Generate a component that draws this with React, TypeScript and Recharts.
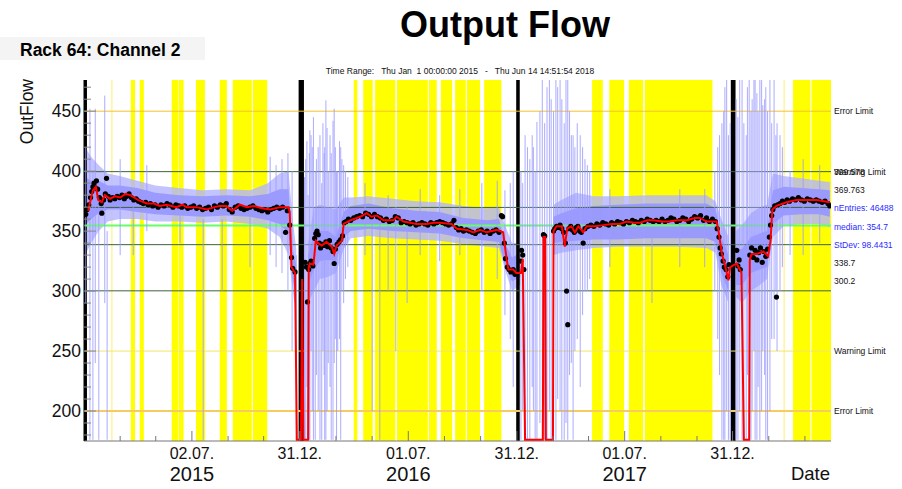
import React from 'react';
import {
  ComposedChart,
  XAxis,
  YAxis,
  Area,
  Line,
  Scatter,
  ErrorBar,
  ReferenceArea,
  ReferenceLine,
} from 'recharts';

const FONT = '"Liberation Sans", Arial, Helvetica, sans-serif';

// x values are days since 01.01.2015
const majorDays = [182, 364, 547, 730, 912, 1094];
const majorLabels = ['02.07.', '31.12.', '01.07.', '31.12.', '01.07.', '31.12.'];
const yearLabels = ['2015', '', '2016', '', '2017', ''];
const minorDays = [61, 121, 243, 303, 425, 486, 608, 669, 791, 851, 973, 1034, 1155, 1216];
const yTicks = [180, 190, 200, 210, 220, 230, 240, 250, 260, 270, 280, 290, 300, 310, 320, 330, 340, 350, 360, 370, 380, 390, 400, 410, 420, 430, 440, 450, 460, 470];

const yellowBands: [number, number][] = [
  [79, 86], [94, 101], [148, 159], [160, 168], [189, 204], [229, 241], [251, 283], [285, 309],
  [455, 461], [471, 487], [491, 525], [528, 580], [582, 595], [602, 621], [626, 644], [646, 668], [675, 704],
  [857, 875], [886, 911], [919, 943], [946, 1060],
  [1196, 1225], [1227, 1260],
];
const paleLines = [47, 1181];
const blackBars: [number, number][] = [[0, 5], [362, 371], [729, 735], [1091, 1099]];

// [value, colour, width, label]
const limitLines: [number, string, number, string][] = [
  [450, '#f2c12e', 1, 'Error Limit'],
  [250, '#f3e46a', 1, 'Warning Limit'],
  [200, '#f6cc62', 2, 'Error Limit'],
];
const statLines = [399.578, 369.763, 338.7, 300.2];
const medianValue = 354.7;
const statTexts: [string, string][] = [
  ['399.578', '#111'],
  ['369.763', '#111'],
  ['nEntries: 46488', '#2a2aff'],
  ['median: 354.7', '#2a2aff'],
  ['StDev: 98.4431', '#2a2aff'],
  ['338.7', '#111'],
  ['300.2', '#111'],
];

// [day, outerLow, outerHigh, innerLow, innerHigh]; null = no envelope
const bandRows: [number, number | null, number | null, number | null, number | null][] = [
  [2, 330, 420, 355, 395], [12, 340, 412, 360, 392], [25, 350, 405, 365, 392], [40, 358, 398, 368, 388],
  [60, 360, 396, 368, 388], [90, 360, 392, 366, 386], [120, 358, 388, 364, 382], [160, 358, 386, 363, 380],
  [200, 357, 384, 362, 379], [240, 358, 385, 363, 380], [280, 356, 384, 362, 379], [310, 352, 390, 359, 381],
  [330, 345, 398, 356, 385], [345, 330, 400, 348, 385], [352, 300, 360, 310, 335], [358, 280, 335, 295, 322],
  [362, null, null, null, null],
  [378, 290, 340, 305, 330], [388, 300, 370, 318, 348], [398, 310, 372, 325, 350], [412, 312, 370, 326, 350],
  [425, 315, 368, 325, 345], [438, 335, 378, 345, 366], [450, 344, 378, 350, 371], [480, 346, 379, 352, 373],
  [520, 344, 377, 350, 369], [560, 343, 375, 349, 367], [600, 342, 374, 348, 366], [640, 339, 371, 344, 361],
  [680, 337, 369, 342, 359], [700, 336, 370, 341, 360], [710, 318, 355, 322, 340], [722, 300, 340, 308, 328],
  [736, 305, 340, 312, 332],
  [744, null, null, null, null],
  [792, 330, 372, 340, 362], [805, 332, 376, 341, 365], [830, 334, 382, 342, 369], [860, 336, 379, 343, 371],
  [900, 337, 379, 343, 372], [950, 337, 380, 344, 373], [1000, 337, 380, 344, 373], [1050, 336, 380, 344, 373],
  [1065, 332, 375, 341, 369], [1075, 305, 360, 315, 345], [1087, 290, 345, 300, 330],
  [1092, null, null, null, null],
  [1100, 295, 350, 305, 335], [1110, 290, 355, 305, 335], [1125, 300, 365, 315, 345], [1140, 305, 370, 318, 348],
  [1152, 310, 372, 320, 350], [1162, 345, 398, 356, 384], [1180, 354, 396, 363, 387], [1210, 356, 394, 364, 386],
  [1240, 356, 392, 364, 385], [1258, 353, 391, 362, 384],
];

// [day, low, high] single raw readings
const spikes: [number, number, number][] = [
  [3, 290, 420], [10, 176, 452], [15, 176, 400], [19, 240, 452], [25, 176, 390], [35, 290, 463], [39, 176, 350],
  [61, 330, 410], [83, 330, 370], [106, 350, 405], [162, 340, 380], [201, 176, 360], [233, 300, 360], [280, 320, 372],
  [314, 330, 412], [324, 320, 405], [334, 315, 410], [344, 300, 415], [351, 250, 400], [358, 176, 330],
  [372, 176, 395], [374, 176, 410], [376, 220, 425], [378, 176, 380], [380, 176, 415], [381, 176, 434], [383, 250, 430],
  [385, 200, 420], [387, 176, 445], [390, 176, 400], [392, 230, 410], [395, 200, 420], [398, 176, 430], [401, 176, 390],
  [403, 250, 440], [405, 230, 415], [406, 176, 420], [408, 176, 459], [410, 200, 436], [412, 240, 400], [415, 220, 430],
  [417, 176, 415], [420, 176, 442], [422, 240, 452], [424, 260, 420], [426, 176, 400], [428, 250, 400], [431, 260, 425],
  [433, 176, 420], [435, 300, 410], [438, 290, 405], [441, 310, 400], [445, 320, 395],
  [474, 330, 390], [486, 200, 360], [499, 176, 365], [513, 300, 380], [526, 250, 370], [545, 290, 370], [567, 330, 385],
  [600, 325, 380], [634, 330, 385], [671, 300, 390], [697, 310, 392], [710, 280, 384], [719, 260, 390], [724, 220, 400],
  [737, 176, 400], [740, 200, 390], [744, 176, 430], [748, 176, 420], [752, 176, 410], [756, 220, 430], [758, 200, 420],
  [761, 176, 400], [764, 176, 441], [769, 190, 450], [773, 176, 476], [777, 176, 440], [781, 176, 470], [785, 200, 476],
  [788, 176, 460], [792, 176, 450], [796, 176, 476], [799, 210, 470], [803, 200, 476], [806, 176, 460], [810, 176, 440],
  [813, 190, 476], [816, 176, 476], [819, 230, 450], [822, 240, 430], [825, 176, 430], [828, 250, 420], [832, 260, 440],
  [837, 220, 430], [841, 280, 420], [845, 300, 410], [849, 300, 405], [853, 310, 400],
  [887, 320, 385], [958, 290, 350], [1005, 320, 385], [1047, 320, 385], [1064, 300, 400], [1069, 260, 420],
  [1072, 230, 430], [1076, 176, 440], [1079, 176, 450], [1081, 176, 470], [1084, 200, 476], [1087, 176, 430],
  [1090, 176, 440], [1100, 176, 460], [1103, 176, 445], [1106, 200, 476], [1110, 176, 476], [1113, 176, 440],
  [1117, 176, 430], [1119, 230, 470], [1122, 176, 476], [1125, 176, 450], [1127, 200, 460], [1130, 250, 476],
  [1132, 176, 476], [1135, 176, 465], [1137, 220, 450], [1140, 176, 476], [1143, 200, 476], [1145, 250, 455],
  [1148, 230, 460], [1150, 176, 470], [1153, 176, 450], [1157, 200, 476], [1160, 260, 440], [1164, 260, 476],
  [1167, 300, 430], [1169, 250, 440], [1174, 300, 430], [1178, 320, 420], [1191, 330, 400], [1213, 330, 410],
  [1241, 340, 405],
];

// [day, value] daily averages
const dots: [number, number][] = [
  [3, 364], [5, 368], [8, 372], [11, 378], [13, 383], [15, 387], [17, 390], [19, 386], [21, 392], [23, 385], [26, 378],
  [29, 373], [30, 365], [33, 376], [36, 381], [38, 394], [41, 379], [44, 376], [48, 378], [52, 377], [56, 379], [60, 378],
  [64, 380], [68, 377], [72, 379], [76, 381], [80, 378], [84, 376], [88, 377], [92, 375], [96, 374], [100, 373], [104, 374],
  [108, 372], [112, 373], [116, 371], [120, 372], [125, 370], [130, 372], [135, 371], [140, 373], [145, 372], [150, 370],
  [155, 372], [160, 371], [165, 370], [170, 371], [175, 369], [180, 370], [185, 371], [190, 369], [195, 370], [200, 368],
  [205, 369], [210, 370], [215, 368], [220, 371], [225, 370], [230, 372], [235, 371], [240, 373], [245, 368], [250, 366],
  [255, 370], [260, 371], [265, 369], [270, 368], [275, 369], [280, 370], [285, 371], [290, 369], [295, 368], [300, 367],
  [305, 368], [310, 366], [315, 368], [320, 369], [325, 370], [330, 369], [335, 370], [340, 349], [343, 367], [347, 355],
  [350, 328], [352, 319], [356, 316], [373, 324], [375, 320], [377, 291], [379, 318], [381, 323], [383, 325], [386, 321],
  [389, 344], [391, 348], [393, 350], [395, 347], [397, 340], [399, 336], [402, 339], [405, 338], [408, 341], [411, 337],
  [414, 342], [417, 336], [420, 333], [422, 323], [424, 335], [427, 339], [430, 341], [433, 343], [436, 346], [439, 357],
  [442, 358], [446, 360], [450, 359], [455, 361], [460, 362], [465, 363], [470, 362], [475, 365], [480, 364], [485, 362],
  [490, 364], [495, 362], [500, 361], [505, 359], [510, 360], [515, 358], [520, 359], [525, 362], [530, 361], [535, 357],
  [540, 358], [545, 357], [550, 356], [555, 357], [560, 355], [565, 356], [570, 357], [575, 356], [580, 355], [585, 357],
  [590, 356], [595, 357], [600, 358], [605, 357], [610, 356], [615, 355], [620, 356], [624, 359], [628, 353], [632, 351],
  [636, 352], [640, 350], [645, 351], [650, 350], [655, 349], [660, 348], [665, 350], [670, 351], [675, 349], [680, 350],
  [685, 348], [690, 350], [695, 351], [700, 349], [704, 363], [706, 362], [709, 340], [711, 327], [714, 320], [717, 318],
  [720, 316], [724, 318], [727, 314], [737, 325], [738, 334], [740, 330], [742, 318], [775, 347], [777, 346], [792, 350],
  [794, 352], [797, 354], [800, 353], [803, 355], [806, 352], [809, 349], [812, 340], [814, 300], [816, 272], [818, 352],
  [821, 354], [824, 351], [827, 349], [830, 353], [833, 354], [836, 350], [839, 349], [842, 340], [845, 352], [850, 354],
  [855, 355], [860, 354], [865, 356], [870, 355], [875, 357], [880, 356], [885, 355], [890, 357], [895, 356], [900, 358],
  [905, 357], [910, 356], [915, 358], [920, 357], [925, 359], [930, 358], [935, 357], [940, 359], [945, 358], [950, 360],
  [955, 359], [960, 358], [965, 359], [970, 358], [975, 360], [980, 358], [985, 359], [990, 361], [995, 360], [1000, 358],
  [1005, 359], [1010, 361], [1015, 360], [1020, 358], [1025, 360], [1030, 362], [1035, 361], [1040, 363], [1045, 359],
  [1050, 361], [1055, 358], [1060, 360], [1065, 358], [1068, 352], [1071, 345], [1073, 336], [1075, 331], [1078, 325],
  [1080, 320], [1083, 318], [1086, 312], [1088, 322], [1101, 334], [1103, 321], [1105, 326], [1107, 318], [1123, 330],
  [1126, 336], [1129, 328], [1132, 334], [1135, 326], [1138, 332], [1141, 336], [1144, 324], [1147, 333], [1150, 329],
  [1153, 335], [1156, 345], [1158, 355], [1160, 363], [1162, 368], [1165, 371], [1168, 295], [1170, 372], [1174, 373],
  [1178, 375], [1182, 374], [1186, 376], [1190, 375], [1195, 377], [1200, 376], [1205, 378], [1210, 376], [1215, 375],
  [1220, 377], [1225, 376], [1230, 375], [1235, 376], [1240, 375], [1245, 374], [1250, 375], [1255, 373], [1258, 371],
];

// [day, value] smoothed trend (176 = no flow, sits on the axis)
const trend: [number, number][] = [
  [7, 367], [15, 384], [20, 387], [24, 376], [30, 374], [35, 380], [44, 377], [52, 379], [61, 378], [70, 381], [78, 380],
  [91, 376], [106, 373], [118, 373], [128, 371], [139, 372], [156, 370], [166, 372], [173, 370], [190, 370], [207, 368],
  [220, 370], [229, 371], [240, 371], [250, 367], [263, 372], [275, 370], [286, 371], [300, 369], [314, 368], [331, 370],
  [345, 370], [347, 366], [350, 320], [356, 315], [359, 176], [366, 176], [368, 310], [370, 176],
  [378, 176], [379, 320], [381, 323], [387, 322], [391, 342], [395, 340], [401, 338], [409, 341], [418, 337], [422, 331],
  [426, 338], [435, 342], [438, 356], [449, 359], [466, 362], [477, 365], [485, 362], [494, 363], [505, 359], [522, 359],
  [527, 362], [539, 358], [550, 357], [561, 356], [578, 356], [590, 357], [600, 357], [620, 356], [629, 352], [646, 351],
  [657, 349], [668, 351], [679, 349], [696, 351], [707, 349], [713, 326], [716, 318], [724, 318], [729, 315], [737, 315],
  [740, 327], [744, 176], [774, 176], [775, 345], [778, 345], [779, 176], [791, 176], [792, 350], [797, 354], [806, 354],
  [811, 337], [815, 352], [822, 354], [828, 349], [834, 354], [842, 349], [848, 354], [862, 354], [876, 355], [890, 356],
  [904, 356], [915, 358], [927, 357], [938, 357], [950, 359], [960, 359], [975, 358], [988, 358], [1000, 359], [1017, 359],
  [1030, 361], [1039, 361], [1050, 358], [1067, 358], [1070, 351], [1076, 331], [1081, 322], [1087, 309],
  [1090, 320], [1101, 323], [1109, 315], [1113, 176], [1122, 176], [1123, 326], [1126, 331], [1135, 331], [1146, 333],
  [1154, 329], [1158, 342], [1161, 368], [1168, 371], [1185, 374], [1202, 376], [1219, 376], [1236, 376], [1258, 374],
];

const bandData = bandRows.map(([day, ol, oh, il, ih]) => ({
  day,
  outer: ol == null ? null : [ol, oh],
  inner: il == null ? null : [il, ih],
}));
const spikeData = spikes.map(([day, lo, hi]) => ({ day, mid: lo, err: [0, hi - lo] }));
const dotData = dots.map(([day, v]) => ({ day, v }));
const trendData = trend.map(([day, v]) => ({ day, v }));
const allXTicks = [...majorDays, ...minorDays].sort((a, b) => a - b);

const XTick = (props: any) => {
  const { x, y, payload } = props;
  const i = majorDays.indexOf(payload.value);
  const major = i >= 0;
  return (
    <g>
      <line x1={x} x2={x} y1={y} y2={y - (major ? 10 : 5)} stroke="#777" />
      {major && (
        <text x={x} y={y + 18} textAnchor="middle" fontSize={16} fill="#111">{majorLabels[i]}</text>
      )}
      {major && yearLabels[i] && (
        <text x={x} y={y + 40} textAnchor="middle" fontSize={20} fill="#111">{yearLabels[i]}</text>
      )}
    </g>
  );
};

const TopTick = (props: any) => {
  const { x, y, payload } = props;
  const major = majorDays.includes(payload.value);
  return <line x1={x} x2={x} y1={y} y2={y + (major ? 10 : 5)} stroke="#777" />;
};

const YTick = (props: any) => {
  const { x, y, payload } = props;
  const major = payload.value % 50 === 0;
  return (
    <g>
      <line x1={x} x2={x + (major ? 12 : 7)} y1={y} y2={y} stroke="#888" />
      {major && (
        <text x={x - 3} y={y} dy="0.36em" textAnchor="end" fontSize={17.5} fill="#111">{payload.value}</text>
      )}
    </g>
  );
};

const noDot = () => <g />;
const blackDot = (p: any) => <circle cx={p.cx} cy={p.cy} r={2.6} fill="#000" />;

export default function App() {
  return (
    <div style={{ position: 'absolute', left: 0, top: 0, width: 902, height: 489, background: '#fff', fontFamily: FONT }}>
      <ComposedChart width={902} height={489} data={bandData} margin={{ top: 80, right: 71, bottom: 18, left: 44 }}>
        <XAxis xAxisId="x" dataKey="day" type="number" domain={[0, 1260]} ticks={allXTicks} interval={0}
          tick={<XTick />} tickLine={false} tickSize={0} tickMargin={0} axisLine={{ stroke: '#777' }} height={30} allowDataOverflow />
        <XAxis xAxisId="top" orientation="top" type="number" domain={[0, 1260]} ticks={allXTicks} interval={0}
          tick={<TopTick />} tickLine={false} tickSize={0} tickMargin={0} axisLine={{ stroke: '#888' }} height={0} allowDataOverflow />
        <YAxis yAxisId="y" type="number" domain={[175, 476]} ticks={yTicks} interval={0} tick={<YTick />}
          tickLine={false} tickSize={0} tickMargin={0} axisLine={{ stroke: '#000' }} width={40} allowDataOverflow />
        <YAxis yAxisId="r" orientation="right" type="number" domain={[175, 476]} tick={false} tickLine={false}
          axisLine={{ stroke: '#888' }} width={0} allowDataOverflow />

        {yellowBands.map(([a, b], i) => (
          <ReferenceArea key={`yb-${i}`} xAxisId="x" yAxisId="y" x1={a} x2={b} fill="#ffff00" fillOpacity={1}
            stroke="none" ifOverflow="hidden" zIndex={-90} />
        ))}
        {paleLines.map((d) => (
          <ReferenceLine key={`pl-${d}`} xAxisId="x" yAxisId="y" x={d} stroke="#fff3a0" strokeWidth={1.5} zIndex={-80} />
        ))}

        <Area xAxisId="x" yAxisId="y" dataKey="outer" type="linear" fill="#b4b4ff" fillOpacity={0.8}
          stroke="none" isAnimationActive={false} zIndex={100} />
        <Area xAxisId="x" yAxisId="y" dataKey="inner" type="linear" fill="#9696ff" fillOpacity={0.9}
          stroke="none" isAnimationActive={false} zIndex={110} />

        <Scatter xAxisId="x" yAxisId="y" data={spikeData} dataKey="mid" shape={noDot} isAnimationActive={false} zIndex={150}>
          <ErrorBar dataKey="err" direction="y" width={0} stroke="#9c9cff" strokeWidth={1} strokeOpacity={0.85} isAnimationActive={false} />
        </Scatter>

        {blackBars.map(([a, b], i) => (
          <ReferenceArea key={`bb-${i}`} xAxisId="x" yAxisId="y" x1={a} x2={b} fill="#000" fillOpacity={1}
            stroke="none" ifOverflow="hidden" zIndex={160} />
        ))}

        {limitLines.map(([v, c, w, label], i) => (
          <ReferenceLine key={`ll-${i}`} xAxisId="x" yAxisId="y" y={v} stroke={c} strokeWidth={w} zIndex={170}
            label={{ value: label, position: 'right', offset: 3, fontSize: 8.5, fill: '#111' }} />
        ))}
        {statLines.map((v, i) => (
          <ReferenceLine key={`sl-${i}`} xAxisId="x" yAxisId="y" y={v} stroke="#3d623d" strokeWidth={1} zIndex={170}
            label={i === 0 ? { value: 'Warning Limit', position: 'right', offset: 3, fontSize: 8.5, fill: '#111' } : undefined} />
        ))}
        <ReferenceLine xAxisId="x" yAxisId="y" y={medianValue} stroke="#66ff66" strokeWidth={2} zIndex={175} />

        <Scatter xAxisId="x" yAxisId="y" data={dotData} dataKey="v" shape={blackDot} isAnimationActive={false} zIndex={600} />
        <Line xAxisId="x" yAxisId="y" data={trendData} dataKey="v" type="linear" stroke="#ff0000" strokeWidth={2}
          dot={false} activeDot={false} isAnimationActive={false} zIndex={700} />
      </ComposedChart>

      <svg width={902} height={489} style={{ position: 'absolute', left: 0, top: 0, pointerEvents: 'none' }}>
        <text x={505} y={37} textAnchor="middle" fontSize={36} fontWeight="bold" fill="#000">Output Flow</text>
        <rect x={0} y={37} width={205} height={23} fill="#f4f4f4" />
        <text x={20} y={56} fontSize={17.5} fontWeight="bold" fill="#000">Rack 64: Channel 2</text>
        <text x={460} y={74} textAnchor="middle" fontSize={8.5} fill="#111" style={{ whiteSpace: 'pre' }}>
          {'Time Range:   Thu Jan  1 00:00:00 2015   -   Thu Jun 14 14:51:54 2018'}
        </text>
        <text transform="translate(33,79) rotate(-90)" textAnchor="end" fontSize={17.5} fill="#111">OutFlow</text>
        <text x={830} y={480} textAnchor="end" fontSize={18.5} fill="#111">Date</text>
        {statTexts.map(([t, c], i) => (
          <text key={t} x={834} y={172 + i * 18.2} dy="0.35em" fontSize={8.5} fill={c}>{t}</text>
        ))}
      </svg>
    </div>
  );
}
